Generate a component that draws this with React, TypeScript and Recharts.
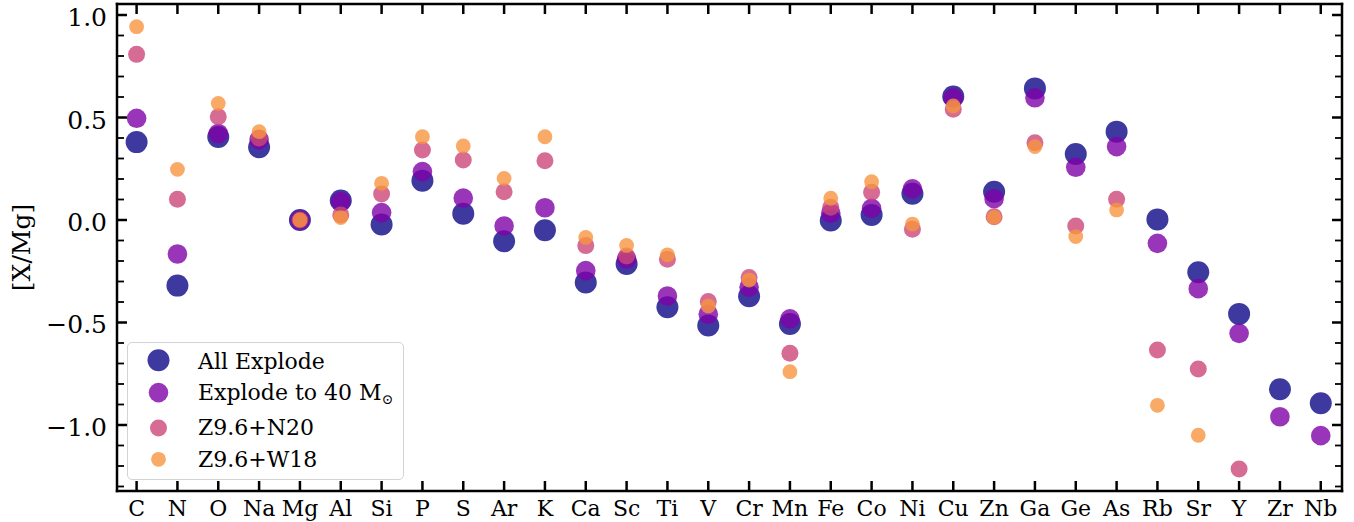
import React from 'react';
import { ScatterChart, Scatter, XAxis, YAxis, Legend } from 'recharts';

// element order along the x axis
const elements = [
  'C', 'N', 'O', 'Na', 'Mg', 'Al', 'Si', 'P', 'S', 'Ar', 'K', 'Ca', 'Sc', 'Ti', 'V',
  'Cr', 'Mn', 'Fe', 'Co', 'Ni', 'Cu', 'Zn', 'Ga', 'Ge', 'As', 'Rb', 'Sr', 'Y', 'Zr', 'Nb',
];

// [X/Mg] per model (null = off the plot)
const allExplode = [
  0.38, -0.32, 0.405, 0.355, 0, 0.095, -0.022, 0.192, 0.031, -0.104, -0.05, -0.305, -0.215, -0.426, -0.515,
  -0.372, -0.507, -0.002, 0.025, 0.128, 0.602, 0.138, 0.642, 0.322, 0.431, 0.003, -0.255, -0.458, -0.826, -0.894,
];
const explodeTo40 = [
  0.496, -0.166, 0.422, 0.392, 0, 0.09, 0.036, 0.236, 0.107, -0.029, 0.06, -0.247, -0.19, -0.371, -0.46,
  -0.328, -0.482, 0.033, 0.057, 0.152, 0.596, 0.104, 0.596, 0.257, 0.358, -0.114, -0.335, -0.553, -0.96, -1.052,
];
const z96N20 = [
  0.808, 0.101, 0.504, 0.4, 0, 0.025, 0.127, 0.341, 0.293, 0.138, 0.289, -0.125, -0.176, -0.192, -0.398,
  -0.28, -0.65, 0.062, 0.135, -0.045, 0.54, 0.016, 0.377, -0.029, 0.101, -0.634, -0.727, -1.215, null, null,
];
const z96W18 = [
  0.943, 0.247, 0.569, 0.431, 0, 0.012, 0.179, 0.406, 0.361, 0.203, 0.406, -0.085, -0.124, -0.17, -0.42,
  -0.293, -0.74, 0.106, 0.187, -0.02, 0.556, 0.013, 0.358, -0.081, 0.049, -0.904, -1.05, null, null, null,
];

const seriesNames = ['All Explode', 'Explode to 40 M', 'Z9.6+N20', 'Z9.6+W18'];

const yMinorTicks = [
  -1.3, -1.2, -1.1, -1.0, -0.9, -0.8, -0.7, -0.6, -0.5, -0.4, -0.3, -0.2, -0.1,
  0, 0.1, 0.2, 0.3, 0.4, 0.5, 0.6, 0.7, 0.8, 0.9, 1.0,
];
const yMajorTicks = [-1.0, -0.5, 0, 0.5, 1.0];
const yMajorLabels = ['\u22121.0', '\u22120.5', '0.0', '0.5', '1.0'];

const xTicks = elements.map((_, i) => i);

// plasma colours, largest marker drawn first
const colors = ['#0d0887', '#7e03a8', '#cc4778', '#f89540'];
const radii = [11, 9.8, 8.5, 7.4];

const FONT = 'DejaVu Serif';
const X_DOMAIN = [-0.48, 29.52];
const Y_DOMAIN = [-1.322, 1.0537];

const toPoints = (vals: (number | null)[]) =>
  vals.map((v, i) => (v === null ? null : { x: i, y: v })).filter(Boolean) as { x: number; y: number }[];

const seriesData = [allExplode, explodeTo40, z96N20, z96W18].map(toPoints);

const majorIndex = (v: number) => yMajorTicks.findIndex((m) => Math.abs(m - v) < 1e-6);

const LeftTick = (props: any) => {
  const { x, y, payload } = props;
  const idx = majorIndex(payload.value);
  const major = idx >= 0;
  return (
    <g>
      <line x1={x} x2={x + (major ? 10 : 7)} y1={y} y2={y} stroke="#000" strokeWidth={major ? 2.5 : 1.8} />
      {major && (
        <text x={x - 10} y={y} dy={11} textAnchor="end" fontSize={25} fontFamily={FONT} fill="#000">
          {yMajorLabels[idx]}
        </text>
      )}
    </g>
  );
};

const RightTick = (props: any) => {
  const { x, y, payload } = props;
  const major = majorIndex(payload.value) >= 0;
  return <line x1={x} x2={x - (major ? 10 : 7)} y1={y} y2={y} stroke="#000" strokeWidth={major ? 2.5 : 1.8} />;
};

const BottomTick = (props: any) => {
  const { x, y, payload } = props;
  return (
    <g>
      <line x1={x} x2={x} y1={y} y2={y - 10} stroke="#000" strokeWidth={2.5} />
      <text x={x} y={y} dy={24.5} textAnchor="middle" fontSize={22} fontFamily={FONT} fill="#000">
        {elements[payload.value]}
      </text>
    </g>
  );
};

const TopTick = (props: any) => {
  const { x, y } = props;
  return <line x1={x} x2={x} y1={y} y2={y + 10} stroke="#000" strokeWidth={2.5} />;
};

const YTitle = (props: any) => {
  const vb = props.viewBox || { y: 4, height: 487 };
  const cy = vb.y + vb.height / 2;
  return (
    <text
      transform={`translate(29.5, ${cy}) rotate(-90)`}
      textAnchor="middle"
      fontSize={25}
      fontFamily={FONT}
      fill="#000"
    >
      [X/Mg]
    </text>
  );
};

const rowText = [26.6, 58.3, 93.3, 125];
const rowDot = [18.3, 50.6, 86, 117.3];

const LegendBox = () => (
  <div
    style={{
      width: 277,
      height: 138,
      boxSizing: 'border-box',
      border: '1.5px solid #d3d3d3',
      borderRadius: 5,
      background: '#fff',
    }}
  >
    <svg width={277} height={138} style={{ position: 'absolute', left: 0, top: 0 }}>
      {seriesNames.map((name, i) => (
        <g key={name}>
          <circle cx={31.5} cy={rowDot[i]} r={radii[i]} fill={colors[i]} fillOpacity={0.8} />
          <text x={71} y={rowText[i]} fontSize={22} fontFamily={FONT} fill="#000">
            {name}
            {i === 1 && (
              <tspan fontSize={14} dy={4}>
                {'\u2299'}
              </tspan>
            )}
          </text>
        </g>
      ))}
    </svg>
  </div>
);

const axisLineStyle = { stroke: '#000', strokeWidth: 2.5, strokeLinecap: 'square' };

export default function App() {
  return (
    <div style={{ position: 'absolute', left: 0, top: 0, width: 1354, height: 522, background: '#fff' }}>
      <ScatterChart width={1354} height={522} margin={{ top: 3, right: 11, bottom: 0, left: 0 }}>
        <XAxis
          xAxisId="b"
          dataKey="x"
          type="number"
          domain={X_DOMAIN}
          allowDataOverflow
          ticks={xTicks}
          interval={0}
          orientation="bottom"
          height={31}
          tickSize={0}
          tickMargin={0}
          tickLine={false}
          tick={<BottomTick />}
          axisLine={axisLineStyle}
        />
        <XAxis
          xAxisId="t"
          dataKey="x"
          type="number"
          domain={X_DOMAIN}
          allowDataOverflow
          ticks={xTicks}
          interval={0}
          orientation="top"
          height={1}
          tickSize={0}
          tickMargin={0}
          tickLine={false}
          tick={<TopTick />}
          axisLine={axisLineStyle}
        />
        <YAxis
          yAxisId="l"
          dataKey="y"
          type="number"
          domain={Y_DOMAIN}
          allowDataOverflow
          ticks={yMinorTicks}
          interval={0}
          width={117}
          tickSize={0}
          tickMargin={0}
          tickLine={false}
          tick={<LeftTick />}
          axisLine={axisLineStyle}
          label={<YTitle />}
        />
        <YAxis
          yAxisId="r"
          dataKey="y"
          type="number"
          orientation="right"
          domain={Y_DOMAIN}
          allowDataOverflow
          ticks={yMinorTicks}
          interval={0}
          width={1}
          tickSize={0}
          tickMargin={0}
          tickLine={false}
          tick={<RightTick />}
          axisLine={axisLineStyle}
        />
        {/* invisible series so the top/right frame axes get drawn */}
        <Scatter
          data={seriesData[0]}
          xAxisId="t"
          yAxisId="r"
          legendType="none"
          isAnimationActive={false}
          shape={() => <g />}
        />
        {seriesData.map((pts, i) => (
          <Scatter
            key={seriesNames[i]}
            name={seriesNames[i]}
            data={pts}
            xAxisId="b"
            yAxisId="l"
            isAnimationActive={false}
            shape={(p: any) => (
              <circle cx={p.cx} cy={p.cy} r={radii[i]} fill={colors[i]} fillOpacity={0.8} />
            )}
          />
        ))}
        <Legend
          layout="horizontal"
          verticalAlign="middle"
          align="center"
          content={() => <LegendBox />}
          wrapperStyle={{ left: 127, top: 342, width: 277, height: 138 }}
        />
      </ScatterChart>
    </div>
  );
}
